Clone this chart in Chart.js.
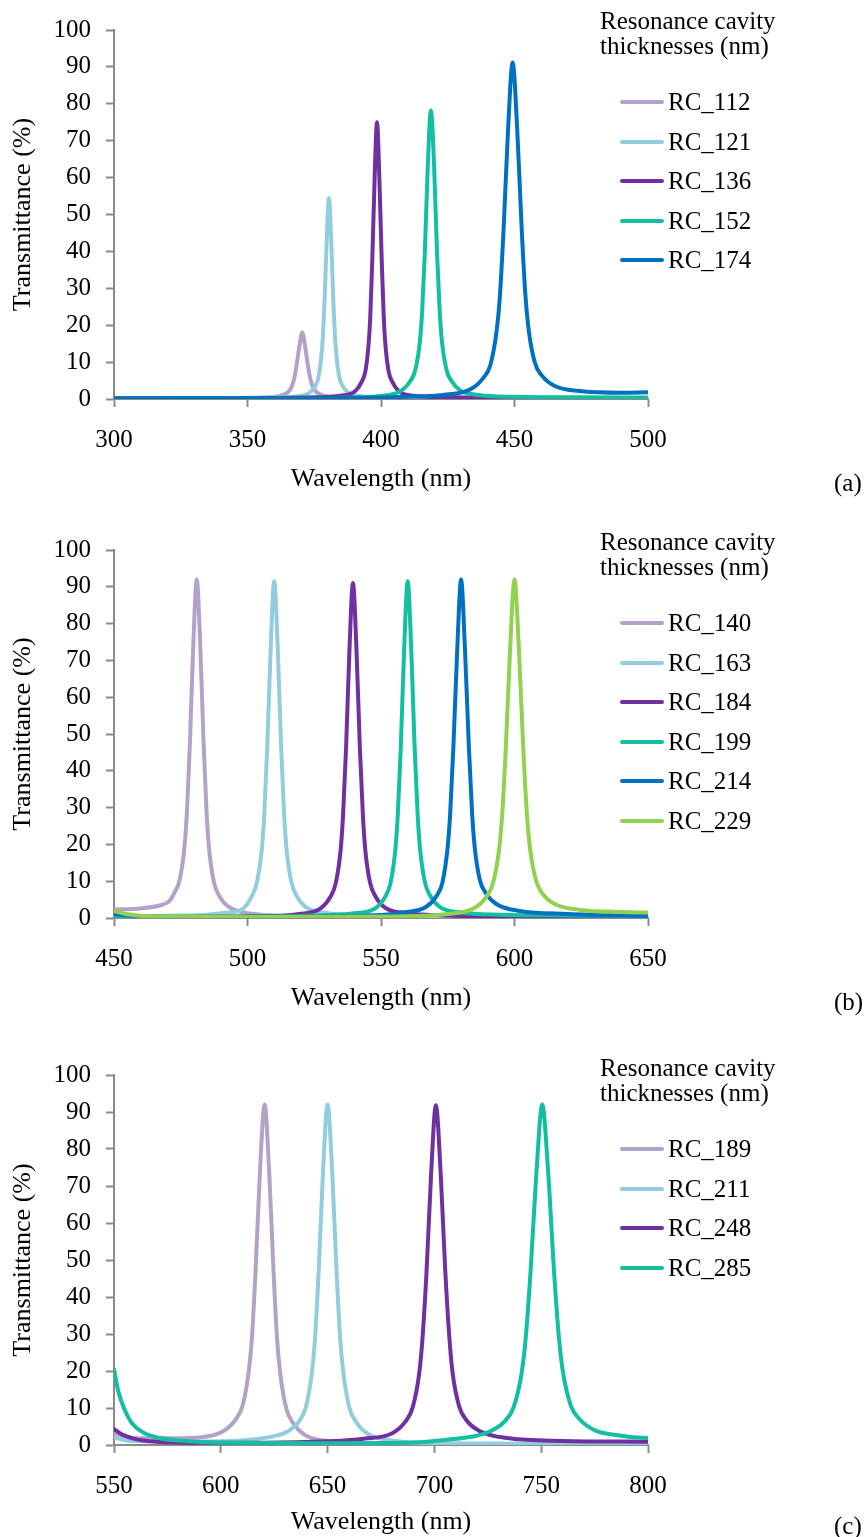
<!DOCTYPE html>
<html><head><meta charset="utf-8">
<script src="https://cdn.jsdelivr.net/npm/chart.js@4.4.1/dist/chart.umd.min.js"></script>
<style>
html,body{margin:0;padding:0;background:#fff;width:866px;height:1537px;overflow:hidden;}
.panel{position:absolute;left:0;}
.txt{position:absolute;font-family:"Liberation Serif","Times New Roman",serif;font-size:25px;line-height:24px;color:#000;white-space:nowrap;}
.sw{position:absolute;height:4px;border-radius:2px;}
</style></head><body>
<script>
// ---------- DATA ----------
const yTicks = [0,10,20,30,40,50,60,70,80,90,100];
const xTicksA = [300,350,400,450,500];
const xTicksB = [450,500,550,600,650];
const xTicksC = [550,600,650,700,750,800];
const namesA = ['RC_112','RC_121','RC_136','RC_152','RC_174'];
const namesB = ['RC_140','RC_163','RC_184','RC_199','RC_214','RC_229'];
const namesC = ['RC_189','RC_211','RC_248','RC_285'];
const legendTitle = ['Resonance cavity','thicknesses (nm)'];
const xTitle = 'Wavelength (nm)';
const yTitle = 'Transmittance (%)';

// panel (a)  [wavelength nm, transmittance %]
const rc112 = [[300,0.2],[340,0.25],[355,0.4],[361.5,0.75],[363.8,1.3],[365.4,2.0],[366.8,3.8],[367.5,5.6],[368.4,9.2],[369.5,14.6],[370.5,18],[371.5,14.6],[372.6,9.2],[373.5,5.6],[374.2,3.8],[375.6,2.0],[377.2,1.3],[379.5,0.75],[386,0.4],[400,0.25],[450,0.2],[500,0.2]];
const rc121 = [[300,0.15],[350,0.2],[360,0.4],[368,0.7],[373,1.6],[375.25,3.4],[376.5,5.6],[377.6,11.1],[378.2,16.6],[378.9,27.5],[379.7,43.8],[380.5,54.5],[381.3,43.8],[382.1,27.5],[382.8,16.6],[383.4,11.1],[384.5,5.6],[385.75,3.4],[388,1.6],[393,0.7],[400,0.4],[450,0.2],[500,0.2]];
const rc136 = [[300,0.15],[360,0.25],[372,0.4],[385,0.9],[390.4,2.2],[392.8,4.7],[394.2,7.7],[395.4,15.2],[396,22.7],[396.74,37.7],[397.62,60],[398.5,75],[399.38,60],[400.26,37.7],[401,22.7],[401.6,15.2],[402.8,7.7],[404.2,4.7],[406.6,2.2],[412,0.9],[425,0.5],[450,0.3],[500,0.15]];
const rc152 = [[300,0.1],[360,0.2],[380,0.3],[400,0.8],[407.9,2.4],[411.1,5.0],[412.9,8.0],[414.6,15.8],[415.4,23.6],[416.4,39.3],[417.5,62.8],[418.7,78.2],[419.9,62.8],[421.0,39.3],[422.0,23.6],[422.8,15.8],[424.5,8.0],[426.3,5.0],[429.5,2.4],[436.7,1.1],[450,0.6],[475,0.45],[500,0.4]];
const rc174 = [[300,0.2],[380,0.3],[410,0.6],[423.3,1.1],[433.7,2.7],[438.4,5.8],[441,9.3],[443.3,18.4],[444.5,27.6],[445.9,45.8],[447.6,73.2],[449.3,91.2],[451,73.3],[452.7,46],[454.1,28],[455.3,18.8],[457.6,9.9],[460.2,6.4],[464.9,3.6],[475.3,2.1],[490,1.7],[500,1.8]];

// panel (b)
const rc140 = [[450,2.3],[460,2.6],[468,3.6],[471,4.8],[472.6,6.8],[474.6,10.4],[476.4,19.3],[477.3,28.6],[478.4,46.9],[479.7,74.3],[481,92],[482.3,74.2],[483.6,46.6],[484.7,28.3],[485.6,18.9],[487.4,9.8],[489.4,6.0],[493,3.0],[501,1.2],[511,0.7],[530,0.5],[560,0.3],[650,0.2]];
const rc163 = [[450,0.4],[470,0.6],[485,0.9],[492,1.4],[498,2.4],[501.6,5.9],[503.6,9.9],[505.4,18.9],[506.3,28.4],[507.4,46.4],[508.7,73.8],[510,91.5],[511.3,73.8],[512.6,46.4],[513.7,28.5],[514.6,18.9],[516.4,9.9],[518.4,6.0],[522,2.9],[530,1.3],[540,0.8],[560,0.5],[600,0.3],[650,0.2]];
const rc184 = [[450,0.2],[480,0.3],[500,0.4],[519.5,1.1],[527.5,2.7],[531.1,5.8],[533.1,9.6],[534.9,18.6],[535.8,28.1],[536.9,45.9],[538.2,73.2],[539.5,91],[540.8,73.2],[542.1,45.9],[543.2,28.2],[544.1,18.6],[545.9,9.6],[547.9,5.9],[551.5,2.8],[559.5,1.3],[570,0.8],[590,0.4],[650,0.2]];
const rc199 = [[450,0.3],[500,0.4],[530,0.8],[540,1.3],[548,2.7],[551.6,5.8],[553.6,9.6],[555.4,18.8],[556.3,28.2],[557.4,46.2],[558.7,73.6],[560,91.5],[561.3,73.6],[562.6,46.2],[563.7,28.4],[564.6,19],[566.4,9.9],[568.4,6.1],[572,3.0],[580,1.5],[595,0.9],[620,0.7],[650,0.6]];
const rc214 = [[450,1.0],[460,0.5],[480,0.3],[520,0.4],[550,0.8],[558,1.5],[566.8,3.0],[570.8,6.0],[573,9.6],[574.9,18.8],[575.9,28.2],[577.1,46.3],[578.6,73.8],[580,92],[581.4,73.9],[582.9,46.6],[584.1,28.7],[585.1,19.2],[587,10.4],[589.2,6.8],[593.2,3.8],[602,1.9],[620,1.1],[650,0.6]];
const rc229 = [[450,1.9],[455,1.0],[465,0.4],[500,0.3],[550,0.4],[575,1.1],[585,2.7],[589.5,5.8],[592,9.6],[594.25,18.8],[595.4,28.2],[596.75,46.3],[598.4,73.8],[600,92],[601.6,73.9],[603.25,46.6],[604.6,28.8],[605.75,19.3],[608,10.3],[610.5,6.6],[615,3.8],[625,2.2],[640,1.6],[650,1.5]];

// panel (c)
const rc189 = [[550,3.0],[555,2.2],[565,1.8],[580,1.8],[590,2.0],[601.3,3.8],[607.1,7.0],[610.3,10.8],[613.1,20],[614.6,29.2],[616.3,47.5],[618.4,74.6],[620.5,92],[622.6,74.4],[624.7,46.8],[626.4,28.2],[627.9,19],[630.7,9.8],[633.9,5.9],[639.7,2.6],[652.5,1.0],[670,0.6],[700,0.4],[750,0.3],[800,0.3]];
const rc211 = [[550,2.2],[556,1.2],[570,0.9],[600,1.0],[615,1.5],[625,2.4],[630.8,3.5],[636.6,6.4],[639.8,10.2],[642.6,19.3],[644.1,28.6],[645.8,46.8],[647.9,74.4],[650,92],[652.1,74.4],[654.2,46.8],[655.9,28.6],[657.4,19.3],[660.2,10.1],[663.4,6.2],[669.2,2.9],[682,1.1],[700,0.5],[750,0.3],[800,0.2]];
const rc248 = [[550,4.3],[554,2.8],[560,1.6],[570,0.9],[590,0.6],[620,0.6],[650,1.0],[666.7,1.7],[680.3,3.2],[686.4,6.3],[689.8,10.1],[692.9,19.4],[694.4,28.6],[696.3,46.6],[698.5,73.7],[700.7,91.8],[702.9,73.9],[705.1,46.9],[707,29.1],[708.5,19.6],[711.6,10.4],[715,6.7],[721.1,3.8],[735,1.8],[760,1.1],[800,0.9]];
const rc285 = [[550,20.5],[552,14.5],[555,9.5],[558,6.2],[563,3.6],[571,1.9],[585,1.0],[600,0.6],[650,0.5],[690,0.7],[708.5,1.6],[718,2.3],[725.3,3.5],[732.9,6.4],[737.1,10.2],[740.8,19.3],[742.7,28.5],[745,46.7],[747.8,74],[750.5,92],[753.2,74.3],[756,47],[758.3,29],[760.2,19.7],[763.9,10.6],[768.1,6.9],[775.7,3.8],[785,2.7],[792.5,2.1],[800,1.9]];

// ---------- STYLE ----------
const FONT = '"Liberation Serif","Times New Roman",serif';
const AX = '#8a8a8a';
const C = {lav:'#B3A2C7', lblue:'#93CDDD', purple:'#7030A0', teal:'#12BFA0', blue:'#0070C0', green:'#92D050'};

const panels = [
  {letter:'(a)', names:namesA, series:[rc112,rc121,rc136,rc152,rc174], colors:[C.lav,C.lblue,C.purple,C.teal,C.blue], xt:xTicksA,
   top:0, areaTop:21, areaBottom:399, titleC:479},
  {letter:'(b)', names:namesB, series:[rc140,rc163,rc184,rc199,rc214,rc229], colors:[C.lav,C.lblue,C.purple,C.teal,C.blue,C.green], xt:xTicksB,
   top:520, areaTop:542, areaBottom:918, titleC:998},
  {letter:'(c)', names:namesC, series:[rc189,rc211,rc248,rc285], colors:[C.lav,C.lblue,C.purple,C.teal], xt:xTicksC,
   top:1045, areaTop:1068, areaBottom:1445, titleC:1522}
];

const PLOT_L = 114, PLOT_R = 648, PAD_L = 8;

function addText(txt, left, cy, extra){
  const d = document.createElement('div');
  d.className = 'txt';
  d.textContent = txt;
  d.style.left = left + 'px';
  d.style.top = (cy - 12) + 'px';
  if (extra) Object.assign(d.style, extra);
  document.body.appendChild(d);
  return d;
}

panels.forEach(p => {
  const H = p.titleC + 16 - p.top;
  const wrap = document.createElement('div');
  wrap.className = 'panel';
  wrap.style.top = p.top + 'px';
  wrap.style.width = '866px';
  wrap.style.height = H + 'px';
  const cv = document.createElement('canvas');
  cv.width = 866; cv.height = H;
  wrap.appendChild(cv);
  document.body.appendChild(wrap);

  const xH = p.titleC + 16 - p.areaBottom;
  const tickFont = {family:FONT, size:25, lineHeight:1.2};
  const titleFont = {family:FONT, size:26, lineHeight:1.2};

  new Chart(cv, {
    type:'line',
    data:{
      datasets: p.series.map((s,i) => ({
        label:p.names[i], data:s, borderColor:p.colors[i], backgroundColor:p.colors[i],
        borderWidth:4, pointRadius:0, fill:false, cubicInterpolationMode:'monotone',
        borderCapStyle:'round', borderJoinStyle:'round', order:-i
      }))
    },
    options:{
      responsive:false, animation:false, devicePixelRatio:1,
      layout:{padding:{left:PAD_L, right:866-PLOT_R, top:p.areaTop-p.top, bottom:0}},
      plugins:{legend:{display:false}, tooltip:{enabled:false}},
      scales:{
        x:{type:'linear', min:p.xt[0], max:p.xt[p.xt.length-1],
          afterBuildTicks: s => { s.ticks = p.xt.map(v => ({value:v})); },
          afterFit: s => { s.height = xH; },
          ticks:{color:'#000', font:tickFont, padding:18, maxRotation:0, autoSkip:false},
          grid:{drawOnChartArea:false, drawTicks:true, tickLength:8, tickColor:AX, tickWidth:2},
          border:{display:true, color:AX, width:2},
          title:{display:true, text:xTitle, color:'#000', font:titleFont, padding:0}
        },
        y:{type:'linear', min:0, max:100,
          afterBuildTicks: s => { s.ticks = yTicks.map(v => ({value:v})); },
          afterFit: s => { s.width = PLOT_L - PAD_L; },
          ticks:{color:'#000', font:tickFont, padding:15},
          grid:{drawOnChartArea:false, drawTicks:true, tickLength:8, tickColor:AX, tickWidth:2},
          border:{display:true, color:AX, width:2},
          title:{display:true, text:yTitle, color:'#000', font:titleFont, padding:0}
        }
      }
    }
  });

  // legend (HTML)
  addText(legendTitle[0], 600, p.areaTop);
  addText(legendTitle[1], 600, p.areaTop + 25);
  p.names.forEach((n,i) => {
    const cy = p.areaTop + 81 + 39.6*i;
    const sw = document.createElement('div');
    sw.className = 'sw';
    sw.style.left = '620px'; sw.style.width = '44px';
    sw.style.top = (cy - 2) + 'px';
    sw.style.background = p.colors[i];
    document.body.appendChild(sw);
    addText(n, 668, cy);
  });
  addText(p.letter, 834, p.titleC + 4);
});
</script>
</body></html>
